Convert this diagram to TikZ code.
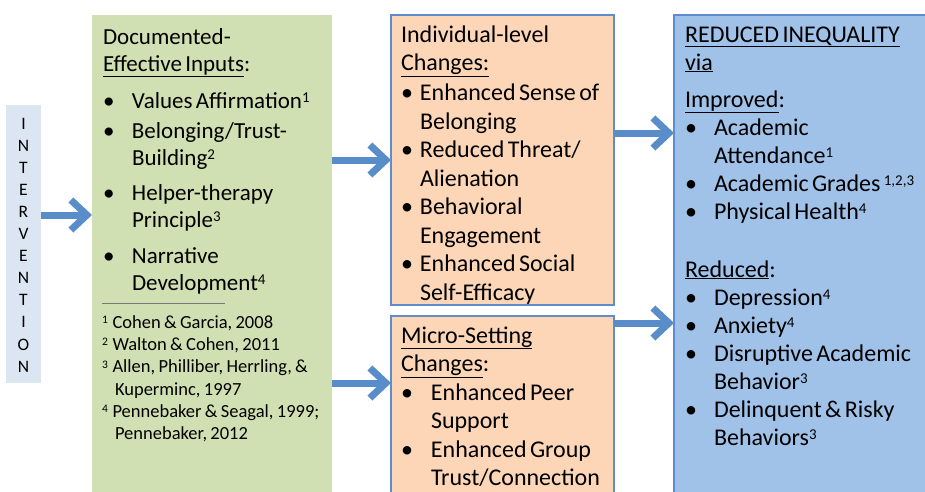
\documentclass[tikz,border=0pt]{standalone}
\usepackage{fontspec}
\setmainfont{Carlito}
\usetikzlibrary{arrows.meta}
\definecolor{greenfill}{RGB}{209,224,178}
\definecolor{orangefill}{RGB}{252,214,183}
\definecolor{bluefill}{RGB}{160,194,233}
\definecolor{bluedraw}{RGB}{95,140,205}
\definecolor{arrowblue}{RGB}{89,141,201}
\definecolor{intfill}{RGB}{220,230,242}
\definecolor{ruleg}{RGB}{120,120,120}
\newcommand{\bitem}[2]{\par\hangindent=#1\hangafter=1\noindent\hbox to #1{•\hfil}#2}
\newcommand{\sups}[1]{\raisebox{5.8pt}{\fontsize{15}{15}\selectfont #1}}
\newcommand{\fsup}[1]{\raisebox{4.8pt}{\fontsize{11.5}{11.5}\selectfont #1}}
\newcommand{\fitem}[2]{\par\hangindent=13pt\hangafter=1\noindent\hbox to 10.5pt{\fsup{#1}\hfil}#2}
\begin{document}
\begin{tikzpicture}[x=1pt,y=-1pt,
  panel/.style={anchor=north west, inner sep=0pt, outer sep=0pt},
  txt/.style={anchor=base west, inner sep=0pt, outer sep=0pt},
  letter/.style={anchor=base, inner sep=0pt, font=\fontsize{17.5}{17.5}\selectfont},
  conn/.style={draw=arrowblue, line width=7pt, -{Straight Barb[length=16pt,width=30pt]}}]
\useasboundingbox (0,0) rectangle (925,491);
% panels
\node[panel, fill=intfill, minimum width=35pt, minimum height=278pt] (int) at (6,105) {};
\node[panel, fill=greenfill, minimum width=240pt, minimum height=485pt] (green) at (92,15) {};
\node[panel, fill=orangefill, draw=bluedraw, line width=1.6pt, minimum width=223pt, minimum height=290pt] (ind) at (391,15) {};
\node[panel, fill=orangefill, draw=bluedraw, line width=1.6pt, minimum width=223pt, minimum height=185pt] (micro) at (391,316) {};
\node[panel, fill=bluefill, draw=bluedraw, line width=1.6pt, minimum width=290pt, minimum height=485pt] (out) at (674,15) {};
% intervention letters
\foreach \l [count=\i] in {I,N,T,E,R,V,E,N,T,I,O,N}
  \node[letter] (L\i) at (23.5,{129+22.1*(\i-1)}) {\l};
% green text
\node[txt, text width=235pt] (gtext) at (103,44) {\fontsize{23}{27}\selectfont\parskip=0pt
Documented-\newline
\underline{Effective Inputs}:\par\vspace{10pt}
\bitem{29pt}{Values Affirmation\sups{1}}\par\vspace{3pt}
\bitem{29pt}{Belonging/Trust-\newline Building\sups{2}}\par\vspace{8pt}
\bitem{29pt}{Helper-therapy\newline Principle\sups{3}}\par\vspace{9pt}
\bitem{29pt}{Narrative\newline Development\sups{4}}\par};
\coordinate (r1) at (102,303);
\coordinate (r2) at (225,303);
\draw[ruleg, line width=0.6pt] (r1) -- (r2);
\node[txt, text width=225pt] (gnotes) at (102,306) {\fontsize{18.5}{22.3}\selectfont\parskip=0pt
\fitem{1}{Cohen \& Garcia, 2008}
\fitem{2}{Walton \& Cohen, 2011}
\fitem{3}{Allen, Philliber, Herrling, \&\newline Kuperminc, 1997}
\fitem{4}{Pennebaker \& Seagal, 1999;\newline Pennebaker, 2012}\par};
% individual-level text
\node[txt, text width=220pt] (itext) at (401,42) {\fontsize{24}{28.5}\selectfont\parskip=0pt
Individual-level\newline
\underline{Changes:}\par\vspace{1.5pt}
\bitem{19pt}{Enhanced Sense of\newline Belonging}
\bitem{19pt}{Reduced Threat/\newline Alienation}
\bitem{19pt}{Behavioral\newline Engagement}
\bitem{19pt}{Enhanced Social\newline Self-Efficacy}\par};
% micro-setting text
\node[txt, text width=220pt] (mtext) at (401,343) {\fontsize{24}{28.5}\selectfont\parskip=0pt
\underline{Micro-Setting}\newline
\underline{Changes}:
\bitem{30pt}{Enhanced Peer\newline Support}
\bitem{30pt}{Enhanced Group\newline Trust/Connection}\par};
% outcome text
\node[txt, text width=245pt] (otext) at (685,42) {\fontsize{24}{28}\selectfont\parskip=0pt
\underline{REDUCED INEQUALITY}\newline
\underline{via}\par\vspace{9pt}
\noindent\underline{Improved}:
\bitem{29pt}{Academic\newline Attendance\sups{1}}
\bitem{29pt}{Academic Grades \sups{1,2,3}}
\bitem{29pt}{Physical Health\sups{4}}\par\vspace{30pt}
\noindent\underline{Reduced}:
\bitem{29pt}{Depression\sups{4}}
\bitem{29pt}{Anxiety\sups{4}}
\bitem{29pt}{Disruptive Academic\newline Behavior\sups{3}}
\bitem{29pt}{Delinquent \& Risky\newline Behaviors\sups{3}}\par};
% connectors
\coordinate (a0) at (0,215);
\coordinate (a1) at (0,160);
\coordinate (a2) at (0,383);
\coordinate (a3) at (0,133);
\coordinate (a4) at (0,323);
\draw[conn] (int.east |- a0) -- (green.west |- a0);
\draw[conn] (green.east |- a1) -- (ind.west |- a1);
\draw[conn] (green.east |- a2) -- (micro.west |- a2);
\draw[conn] (ind.east |- a3) -- (out.west |- a3);
\draw[conn] (micro.east |- a4) -- (out.west |- a4);
\end{tikzpicture}
\end{document}
